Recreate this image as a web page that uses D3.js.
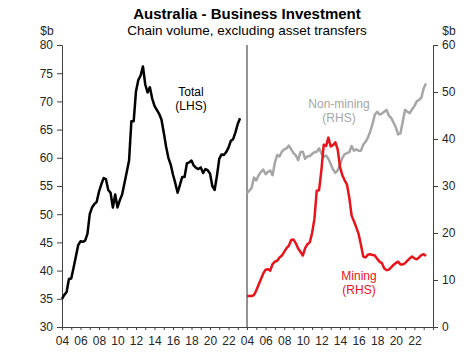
<!DOCTYPE html>
<html>
<head>
<meta charset="utf-8">
<script src="https://cdn.jsdelivr.net/npm/d3@7"></script>
<style>
  body { margin: 0; background: #fff; }
  text { font-family: "Liberation Sans", Arial, sans-serif; }
</style>
</head>
<body>
<svg id="chart" width="474" height="363"></svg>
<script>
// quarterly, 2004Q1 .. 2023Q2
var startYear = 2004;
var total = [35.0, 35.7, 36.2, 38.5, 38.6, 40.5, 42.5, 44.5, 45.2, 45.1,
  45.3, 46.5, 50.0, 51.2, 51.8, 52.2, 54.0, 55.3, 56.4, 56.2,
  54.3, 53.8, 51.2, 53.5, 51.2, 52.5, 53.5, 55.5, 57.5, 59.5,
  66.5, 66.5, 71.8, 73.8, 74.6, 76.2, 73.0, 71.6, 72.5, 70.5,
  69.2, 68.5, 67.8, 66.8, 64.5, 62.0, 60.0, 58.8, 57.0, 55.5,
  53.8, 55.2, 56.6, 56.6, 59.0, 59.2, 59.5, 58.6, 58.2, 58.0,
  58.3, 57.3, 58.0, 57.8, 57.2, 55.0, 54.3, 56.8, 59.8, 60.6,
  60.5, 61.0, 61.8, 63.0, 63.3, 64.5, 66.0, 67.0];
var nonMining = [28.5, 29.0, 29.6, 31.8, 31.2, 32.3, 33.0, 33.5, 32.5, 33.0,
  33.3, 32.3, 35.0, 36.6, 36.3, 37.3, 37.8, 38.0, 38.6, 37.8,
  37.0, 36.5, 35.5, 37.2, 37.3, 35.8, 36.3, 36.4, 36.8, 37.2,
  37.3, 38.0, 37.0, 36.2, 36.5, 35.8, 34.7, 33.5, 32.8, 33.3,
  34.5, 36.0, 36.8, 37.0, 37.2, 38.5, 37.5, 37.8, 37.5, 37.5,
  38.8, 39.4, 40.3, 41.6, 43.2, 45.2, 45.8, 45.2, 45.4, 45.8,
  46.2, 45.0, 44.5, 43.5, 42.5, 41.0, 41.2, 43.7, 46.2, 45.8,
  45.5, 46.3, 47.0, 48.0, 48.3, 48.8, 50.8, 51.8];
var mining = [6.6, 6.6, 6.6, 6.8, 7.8, 9.0, 10.2, 11.4, 12.2, 12.3,
  12.0, 13.4, 13.9, 14.1, 14.8, 15.2, 16.0, 16.8, 17.3, 18.5,
  18.6, 17.8, 16.7, 16.0, 15.2, 16.8, 17.6, 18.0, 20.0, 23.0,
  29.0, 29.1, 33.4, 38.8, 38.5, 40.3, 38.4, 38.7, 39.3, 37.8,
  34.0, 32.3, 31.2, 30.3, 27.5, 23.7, 22.5, 21.2, 19.8, 17.5,
  15.0, 14.8, 15.4, 15.5, 15.3, 15.2, 14.5, 13.9, 13.6, 12.5,
  12.1, 12.2, 12.7, 13.2, 13.6, 13.9, 13.3, 13.3, 13.6, 14.1,
  14.6, 15.0, 14.6, 14.4, 14.8, 15.3, 15.5, 15.1];
var leftTicks = [30, 35, 40, 45, 50, 55, 60, 65, 70, 75, 80];
var rightTicks = [0, 10, 20, 30, 40, 50, 60];
var yearLabels = [2004, 2006, 2008, 2010, 2012, 2014, 2016, 2018, 2020, 2022];

var svg = d3.select("#chart");
var plotTop = 45, plotBottom = 327;
var leftX = 62, midX = 247, rightX = 433;

var yL = d3.scaleLinear().domain([30, 80]).range([plotBottom, plotTop]);
var yR = d3.scaleLinear().domain([0, 60]).range([plotBottom, plotTop]);
var xL = d3.scaleLinear().domain([2004, 2024]).range([leftX, midX]);
var xR = d3.scaleLinear().domain([2004, 2024]).range([midX, rightX]);

var tc = "#262626";

// titles
svg.append("text").attr("x", 247).attr("y", 19).attr("text-anchor", "middle")
  .attr("font-size", 15).attr("font-weight", "bold").attr("fill", "#000")
  .text("Australia - Business Investment");
svg.append("text").attr("x", 247).attr("y", 35).attr("text-anchor", "middle")
  .attr("font-size", 13.5).attr("fill", "#000")
  .text("Chain volume, excluding asset transfers");
svg.append("text").attr("x", 47).attr("y", 35).attr("text-anchor", "middle")
  .attr("font-size", 12).attr("fill", tc).text("$b");
svg.append("text").attr("x", 449).attr("y", 35).attr("text-anchor", "middle")
  .attr("font-size", 12).attr("fill", tc).text("$b");

// y axes
var gl = svg.append("g").attr("transform", "translate(" + leftX + ",0)")
  .call(d3.axisLeft(yL).tickValues(leftTicks).tickSize(5).tickPadding(4));
var gr = svg.append("g").attr("transform", "translate(" + rightX + ",0)")
  .call(d3.axisRight(yR).tickValues(rightTicks).tickSize(5).tickPadding(4));

// x axes, minor ticks each year, labels every 2 years
var years = d3.range(2004, 2025);
function xAxis(sc, last) {
  var g = svg.append("g").attr("transform", "translate(0," + plotBottom + ")")
    .call(d3.axisBottom(sc).tickValues(last ? years : years.slice(0, -1))
      .tickSize(3).tickPadding(4)
      .tickFormat(function(d) { return yearLabels.indexOf(d) >= 0 ? d3.format("02d")(d % 100) : ""; }));
  return g;
}
var gxl = xAxis(xL, false);
var gxr = xAxis(xR, true);

[gl, gr, gxl, gxr].forEach(function(g) {
  g.selectAll("text").attr("font-size", 12).attr("fill", tc)
    .style("font-family", "'Liberation Sans', Arial, sans-serif");
  g.selectAll("line").attr("stroke", "#404040");
  g.select(".domain").attr("stroke", "#404040");
});
gxl.selectAll("text").attr("dy", "0.9em");
gxr.selectAll("text").attr("dy", "0.9em");
gxr.selectAll(".tick").filter(function(d) { return d === 2024; }).select("line").remove();

// divider
svg.append("line").attr("x1", midX).attr("x2", midX).attr("y1", plotTop).attr("y2", plotBottom)
  .attr("stroke", "#262626").attr("stroke-width", 1);

function qx(sc) { return function(d, i) { return sc(startYear + i / 4); }; }

svg.append("path").datum(total)
  .attr("fill", "none").attr("stroke", "#000").attr("stroke-width", 2.5)
  .attr("stroke-linejoin", "round")
  .attr("d", d3.line().x(qx(xL)).y(function(d) { return yL(d); }));
svg.append("path").datum(nonMining)
  .attr("fill", "none").attr("stroke", "#a6a6a6").attr("stroke-width", 2.5)
  .attr("stroke-linejoin", "round")
  .attr("d", d3.line().x(qx(xR)).y(function(d) { return yR(d); }));
svg.append("path").datum(mining)
  .attr("fill", "none").attr("stroke", "#e8141c").attr("stroke-width", 2.5)
  .attr("stroke-linejoin", "round")
  .attr("d", d3.line().x(qx(xR)).y(function(d) { return yR(d); }));

// labels
function label(x, y, lines, color) {
  var t = svg.append("text").attr("x", x).attr("y", y).attr("text-anchor", "middle")
    .attr("font-size", 12).attr("fill", color);
  lines.forEach(function(s, i) {
    t.append("tspan").attr("x", x).attr("dy", i ? 14 : 0).text(s);
  });
}
label(191, 96, ["Total", "(LHS)"], "#000");
label(339, 108, ["Non-mining", "(RHS)"], "#a6a6a6");
label(359, 280, ["Mining", "(RHS)"], "#e8141c");
</script>
</body>
</html>
